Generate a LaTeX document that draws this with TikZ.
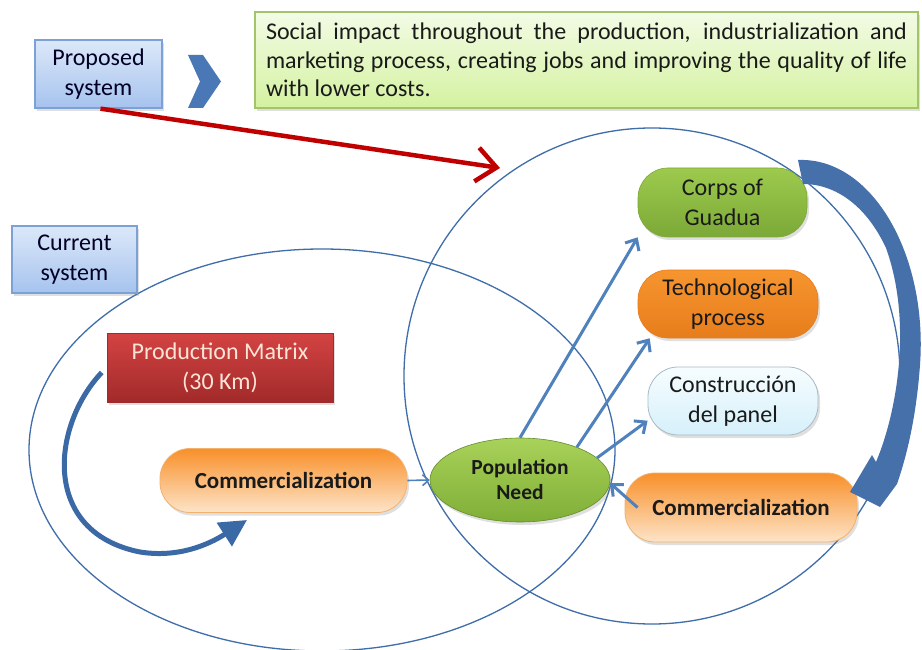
\documentclass[tikz,border=0pt]{standalone}
\usepackage{fontspec}
\setmainfont{Carlito}
\usetikzlibrary{arrows.meta,shadows,shapes.geometric}
\definecolor{circ}{HTML}{3E6DA9}
\definecolor{arrowblue}{HTML}{4F81BD}
\definecolor{thickblue}{HTML}{4570AA}
\definecolor{curveblue}{HTML}{3B69A6}
\definecolor{redarrow}{HTML}{C00000}
\definecolor{bluetop}{HTML}{DCE8F9}
\definecolor{bluebot}{HTML}{A6C3EE}
\definecolor{blueborder}{HTML}{7BA1D6}
\definecolor{greentop}{HTML}{F3FBE6}
\definecolor{greenbot}{HTML}{D4F2A0}
\definecolor{greenborder}{HTML}{A2C46A}
\definecolor{pmtop}{HTML}{D44343}
\definecolor{pmbot}{HTML}{A22A2A}
\definecolor{pmtext}{HTML}{FCE4D6}
\definecolor{comtop}{HTML}{F8902A}
\definecolor{combot}{HTML}{FDE4C8}
\definecolor{comborder}{HTML}{F3B16E}
\definecolor{pntop}{HTML}{A9D25A}
\definecolor{pnbot}{HTML}{7FAE36}
\definecolor{corpstop}{HTML}{9DCA4D}
\definecolor{corpsbot}{HTML}{7CA937}
\definecolor{techtop}{HTML}{F6952F}
\definecolor{techbot}{HTML}{E77D1C}
\definecolor{constop}{HTML}{F6FDFF}
\definecolor{consbot}{HTML}{D6F0FA}
\definecolor{consborder}{HTML}{A9B9C4}
\definecolor{chev}{HTML}{4A78B6}
\definecolor{txt}{HTML}{1A1A1A}
\tikzset{
  base/.style={font=\fontsize{24}{30}\selectfont, align=center, inner sep=0pt, text=txt},
  shad/.style={drop shadow={opacity=0.25, shadow xshift=2pt, shadow yshift=-3pt}},
  sysbox/.style={base, shad, draw=blueborder, line width=1.3pt, top color=bluetop, bottom color=bluebot, text=black!85!blue},
  pill/.style={base, shad, rectangle, rounded corners=30pt},
  comnode/.style={pill, draw=comborder, line width=0.8pt, top color=comtop, bottom color=combot, font=\fontsize{23}{28}\selectfont\bfseries},
  arr/.style={draw=arrowblue, line width=3pt, -{Straight Barb[length=9pt,width=16pt]}},
  ring/.style={draw=circ, line width=1.3pt}
}
\begin{document}
\begin{tikzpicture}[x=1pt,y=-1pt]
\useasboundingbox[fill=white] (0,0) rectangle (922,650);

% circles
\draw[ring] (322,450) ellipse [x radius=293pt, y radius=201pt];
\draw[ring] (652,376) circle [radius=248pt];

% header
\node[sysbox, minimum width=127pt, minimum height=68pt] (prop) at (98.5,74) {Proposed\\system};
\fill[chev] (188,55) -- (203,55) -- (221,81.5) -- (203,108) -- (188,108) -- (200,81.5) -- cycle;
\node[base, shad, draw=greenborder, line width=1.3pt, top color=greentop, bottom color=greenbot,
      minimum width=663pt, minimum height=96pt, text width=641pt, align=justify,
      font=\fontsize{24}{28.5}\selectfont] (impact) at (586.5,60)
  {Social impact throughout the production, industrialization and\linebreak marketing process, creating jobs and improving the quality of life\linebreak with lower costs.};

\node[sysbox, minimum width=125pt, minimum height=67pt] (cur) at (74.5,259.5) {Current\\system};

% nodes
\node[base, shad, rectangle, draw=pmbot, line width=0.6pt, top color=pmtop, bottom color=pmbot, text=pmtext,
      minimum width=226pt, minimum height=69pt] (pm) at (220,367.5) {Production Matrix\\(30 Km)};
\node[comnode, minimum width=247pt, minimum height=64pt] (cl) at (283.5,480.5) {Commercialization};
\node[base, shad, ellipse, draw=pnbot!80!black, line width=0.6pt, top color=pntop, bottom color=pnbot,
      minimum width=180pt, minimum height=84pt, font=\fontsize{21.5}{25}\selectfont\bfseries] (pn) at (520,480) {Population\\Need};
\node[comnode, minimum width=232pt, minimum height=69pt] (cr) at (741,507.5) {Commercialization};
\node[pill, draw=corpsbot, line width=0.6pt, top color=corpstop, bottom color=corpsbot,
      minimum width=169pt, minimum height=69pt] (corps) at (722.5,202.5) {Corps of\\Guadua};
\node[pill, draw=techbot, line width=0.6pt, top color=techtop, bottom color=techbot,
      minimum width=180pt, minimum height=68pt] (tech) at (728,304) {Technological\\process};
\node[pill, draw=consborder, line width=0.8pt, top color=constop, bottom color=consbot,
      minimum width=170pt, minimum height=68pt] (constr) at (733,401) {Construcción\\del panel};

% red arrow
\coordinate (redtip) at (500,168);
\draw[redarrow, line width=4.5pt, -{Straight Barb[length=20pt,width=34pt]}] ([xshift=2pt]prop.south) -- (redtip);

% blue arrows
\draw[arr] (pn.north) -- (corps.south west);
\draw[arr] (pn.30) -- ([xshift=12pt]tech.south west);
\draw[arr] (pn.16) -- (constr.193);
\draw[draw=arrowblue, line width=1.6pt, -{Straight Barb[length=6pt,width=11pt]}] (cl.east) -- (pn.west);
\draw[arr] ([xshift=13pt]cr.west) -- (pn.-2);

% left curved arrow
\coordinate (lctip) at (247,520);
\draw[curveblue, line width=5pt, -{Triangle[length=27pt,width=27pt]}]
  ([shift={(-5,5)}]pm.west) .. controls (52,425) and (40,532) .. (140,552)
  .. controls (178,558) and (208,545) .. (lctip);

% right thick arrow
\fill[thickblue] (798,160) .. controls (872,157) and (928,255) .. (920,365)
  .. controls (916,420) and (906,458) .. (897,484)
  -- (880,507) -- (850,492) -- (872,455) -- (876,462)
  .. controls (898,410) and (912,320) .. (886,248)
  .. controls (866,205) and (835,184) .. (803,184) -- cycle;
\end{tikzpicture}
\end{document}
